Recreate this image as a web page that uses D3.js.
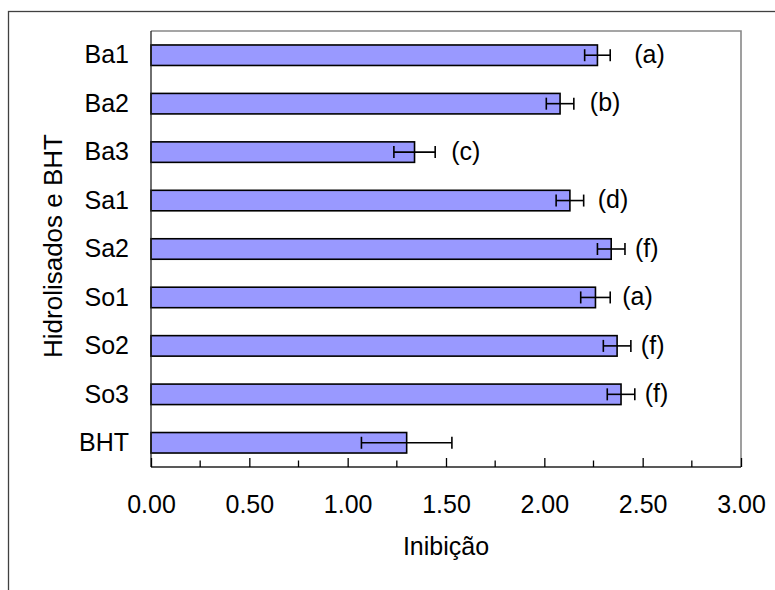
<!DOCTYPE html>
<html><head><meta charset="utf-8">
<script src="https://cdn.jsdelivr.net/npm/d3@7"></script>
<style>body{margin:0;background:#fff} text{font-family:Arial,"Liberation Sans",sans-serif;fill:#000}</style>
</head><body><svg id="c" width="775" height="590"></svg>
<script>
const categories = ["Ba1","Ba2","Ba3","Sa1","Sa2","So1","So2","So3","BHT"];
const values = [2.27,2.08,1.34,2.13,2.34,2.26,2.37,2.39,1.30];
const errors = [0.065,0.07,0.105,0.07,0.07,0.075,0.07,0.07,0.23];
const letters = ["(a)","(b)","(c)","(d)","(f)","(a)","(f)","(f)",""];
const xTickValues = [0,0.5,1,1.5,2,2.5,3];
const xMinorTicks = [0.25,0.75,1.25,1.75,2.25,2.75];
const xTitle = "Inibição";
const yTitle = "Hidrolisados e BHT";

// layout (pixel gaps between error bar end and letter label)
const letterGap = [24,16,16,14,10,12,10,10,10];

const svg = d3.select("#c");
const L = 151, R = 741, T = 31, B = 467;
const fs = 25;

// outer frame (extends past the picture)
svg.append("rect").attr("x",8.5).attr("y",11.5).attr("width",800).attr("height",600)
  .attr("fill","none").attr("stroke","#404040").attr("stroke-width",1.3);

const x = d3.scaleLinear().domain([0,3]).range([L,R]);
const y = d3.scaleBand().domain(categories).range([T,B]).paddingInner(0.577).paddingOuter(0.2885);

// plot area border
svg.append("path").attr("d",`M${L},${T}H${R}V${B}`).attr("fill","none")
  .attr("stroke","#888").attr("stroke-width",1.6);

const data = categories.map((c,i)=>({c,v:values[i],e:errors[i],t:letters[i],g:letterGap[i]}));

// bars
svg.append("g").selectAll("rect").data(data).join("rect")
  .attr("x",x(0)).attr("y",d=>y(d.c)).attr("width",d=>x(d.v)-x(0)).attr("height",y.bandwidth())
  .attr("fill","#9999FF").attr("stroke","#000").attr("stroke-width",1.6);

// error bars
const eg = svg.append("g").attr("stroke","#000").attr("stroke-width",1.6);
data.forEach(d=>{
  const cy = y(d.c)+y.bandwidth()/2;
  const x1 = x(d.v-d.e), x2 = x(d.v+d.e);
  eg.append("line").attr("x1",x1).attr("x2",x2).attr("y1",cy).attr("y2",cy);
  eg.append("line").attr("x1",x1).attr("x2",x1).attr("y1",cy-6).attr("y2",cy+6);
  eg.append("line").attr("x1",x2).attr("x2",x2).attr("y1",cy-6).attr("y2",cy+6);
});

// letter labels
svg.append("g").selectAll("text").data(data.filter(d=>d.t)).join("text")
  .attr("x",d=>x(d.v+d.e)+d.g).attr("y",d=>y(d.c)+y.bandwidth()/2-1)
  .attr("dy","0.35em").attr("font-size",fs).text(d=>d.t);

// category labels
svg.append("g").selectAll("text").data(categories).join("text")
  .attr("x",129).attr("y",d=>y(d)+y.bandwidth()/2).attr("dy","0.33em")
  .attr("text-anchor","end").attr("font-size",fs).text(d=>d);

// left axis line
svg.append("line").attr("x1",L).attr("x2",L).attr("y1",T).attr("y2",B)
  .attr("stroke","#222").attr("stroke-width",1.3);

// bottom axis
const ax = svg.append("g").attr("transform",`translate(0,${B})`);
ax.call(d3.axisBottom(x).tickValues(xTickValues).tickSize(-9).tickFormat(d3.format(".2f")).tickPadding(0))
ax.select(".domain").attr("stroke","#222").attr("stroke-width",1.6).attr("d",`M${L},0H${R}`);
ax.selectAll(".tick line").attr("stroke","#000").attr("stroke-width",1.3);
ax.selectAll(".tick text").attr("font-size",fs).attr("font-family","Arial, 'Liberation Sans', sans-serif")
  .attr("y",45.7).attr("dy",null);
ax.append("g").selectAll("line").data(xMinorTicks).join("line")
  .attr("x1",d=>x(d)).attr("x2",d=>x(d)).attr("y1",-6.5).attr("y2",0)
  .attr("stroke","#000").attr("stroke-width",1.3);

// titles
svg.append("text").attr("x",(L+R)/2).attr("y",555).attr("text-anchor","middle")
  .attr("font-size",fs).text(xTitle);
svg.append("text").attr("transform",`translate(61.5,${(T+B)/2-3}) rotate(-90)`)
  .attr("text-anchor","middle").attr("font-size",26).text(yTitle);
</script></body></html>
